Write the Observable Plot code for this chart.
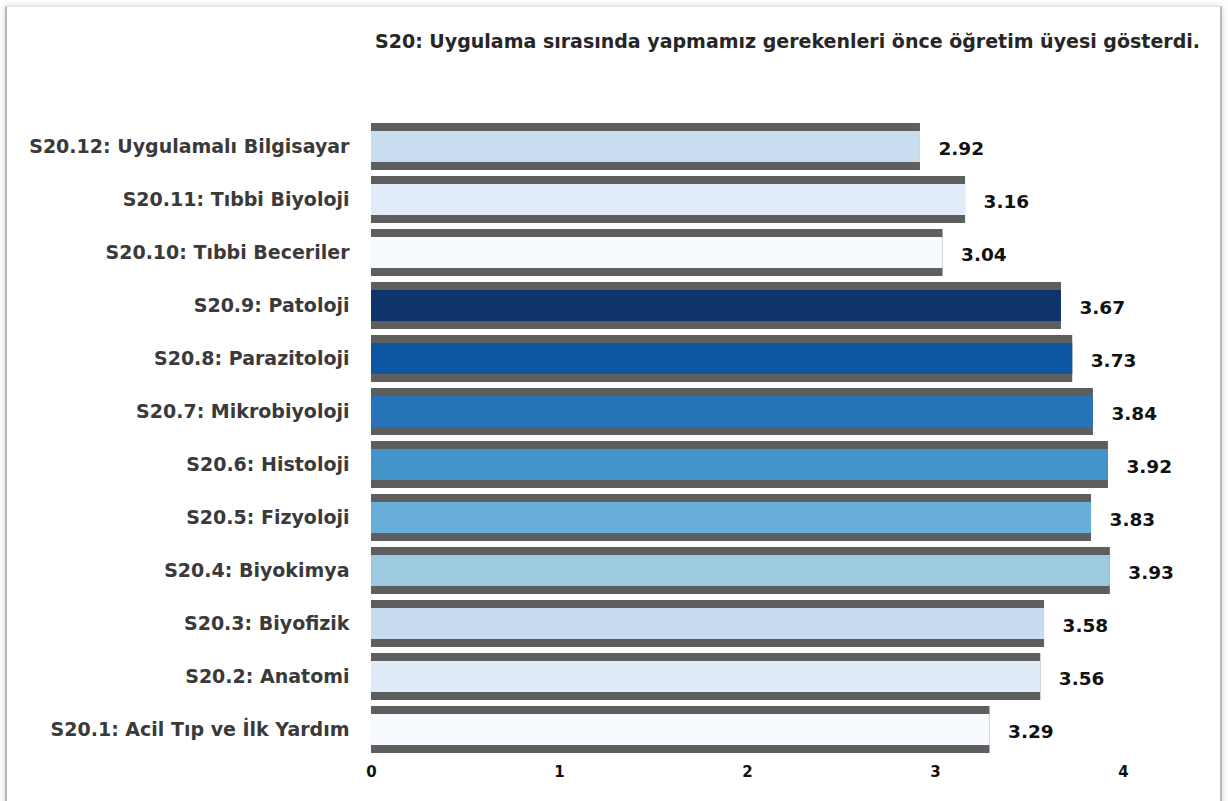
<!DOCTYPE html>
<html>
<head>
<meta charset="utf-8">
<script src="https://cdn.jsdelivr.net/npm/d3@7"></script>
<script src="https://cdn.jsdelivr.net/npm/@observablehq/plot@0.6"></script>
<style>
  html, body { margin: 0; padding: 0; background: #fff; }
  #wrap { position: relative; width: 1228px; height: 801px; overflow: hidden; background: #fff; font-family: "DejaVu Sans", Verdana, sans-serif; }
  #frame { position: absolute; left: 5px; top: 6px; width: 1213px; height: 820px; border-left: 2px solid #b8b8b8; border-right: 2px solid #b8b8b8; border-top: 1px solid #e4e4e4; box-shadow: 0 0 6px rgba(0,0,0,0.18); pointer-events: none; }
  #title { position: absolute; top: 30px; right: 28px; font-weight: bold; font-size: 19px; color: #262626; white-space: nowrap; }
  #chart { position: absolute; left: 0; top: 100px; }
</style>
</head>
<body>
<div id="wrap">
  <div id="frame"></div>
  <div id="title">S20: Uygulama sırasında yapmamız gerekenleri önce öğretim üyesi gösterdi.</div>
  <div id="chart"></div>
</div>
<script>
// Categories, top to bottom as shown
const categories = [
  "S20.12: Uygulamalı Bilgisayar",
  "S20.11: Tıbbi Biyoloji",
  "S20.10: Tıbbi Beceriler",
  "S20.9: Patoloji",
  "S20.8: Parazitoloji",
  "S20.7: Mikrobiyoloji",
  "S20.6: Histoloji",
  "S20.5: Fizyoloji",
  "S20.4: Biyokimya",
  "S20.3: Biyofizik",
  "S20.2: Anatomi",
  "S20.1: Acil Tıp ve İlk Yardım"
];
const values = [2.92, 3.16, 3.04, 3.67, 3.73, 3.84, 3.92, 3.83, 3.93, 3.58, 3.56, 3.29];
const xTicks = [0, 1, 2, 3, 4];
const palette = ["#c9ddf1", "#e1ecf8", "#f7fafe", "#0f356c", "#0d56a1", "#2673b9",
                 "#4394c8", "#67afd9", "#9ecae1", "#c8dcf0", "#e0ebf7", "#f7fbff"];

const data = categories.map((c, i) => ({category: c, value: values[i]}));

const plot = Plot.plot({
  width: 1228,
  height: 701,
  marginLeft: 371,
  marginRight: 105,
  marginTop: 19,
  marginBottom: 45,
  style: {fontFamily: "DejaVu Sans, Verdana, sans-serif", background: "transparent"},
  x: {domain: [0, 4], ticks: xTicks, axis: null},
  y: {domain: categories, padding: 0, axis: null},
  color: {domain: categories, range: palette},
  marks: [
    Plot.barX(data, {x: "value", y: "category", fill: "#5e5e5e", insetTop: 3, insetBottom: 3}),
    Plot.barX(data, {x: "value", y: "category", fill: "category", insetTop: 11, insetBottom: 11}),
    Plot.text(data, {x: "value", y: "category", text: d => d.value.toFixed(2), dx: 18, dy: 2, textAnchor: "start",
      fontSize: 18.5, fontWeight: "bold", fill: "#111"}),
    Plot.axisY({tickSize: 0, tickPadding: 22, fontSize: 19, fontWeight: "bold", color: "#3a3a3a", label: null}),
    Plot.axisX({ticks: xTicks, tickSize: 0, tickPadding: 10, fontSize: 15, fontWeight: "bold", color: "#111", label: null, tickFormat: d3.format("d")})
  ]
});
document.getElementById("chart").appendChild(plot);
</script>
</body>
</html>
